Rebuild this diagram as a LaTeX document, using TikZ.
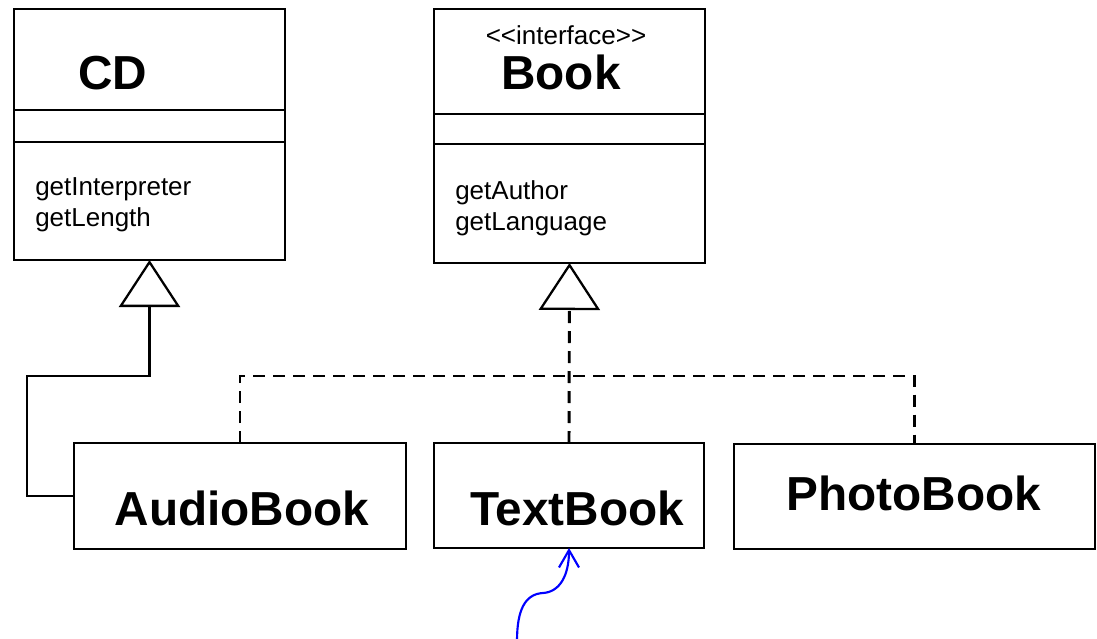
\documentclass[tikz,border=0pt]{standalone}
\usepackage{fontspec}
\setmainfont{Liberation Sans}[Ligatures=TeXOff]
\usetikzlibrary{arrows.meta,calc}
\def\pxu{0.75pt}
\begin{document}
\begin{tikzpicture}[x=0.75pt,y=-0.75pt,
  box/.style={draw,line width=1.7pt,inner sep=0pt,outer sep=0pt,rectangle},
  title/.style={anchor=base,inner sep=0pt,font=\fontsize{35.8}{40}\selectfont\bfseries},
  stereo/.style={anchor=base,inner sep=0pt,font=\fontsize{19.5}{22}\selectfont},
  meth/.style={anchor=base west,inner sep=0pt,font=\fontsize{19.5}{22}\selectfont},
  divider/.style={line width=1.7pt},
  inh/.style={line width=1.7pt,-{Triangle[open,length=47*\pxu,width=61*\pxu,line width=1.7pt]}},
  realz/.style={line width=2.2pt,dash pattern=on 9pt off 6pt},
  note/.style={blue,line width=1.6pt,-{Straight Barb[length=13pt,width=15pt,line width=1.6pt]}}]
\useasboundingbox (0,0) rectangle (1097,639);

% class boxes
\node[box,minimum width=271*\pxu,minimum height=251*\pxu] (cd) at (149.5,134.5) {};
\node[box,minimum width=271*\pxu,minimum height=254*\pxu] (bk) at (569.5,136) {};
\node[box,minimum width=332*\pxu,minimum height=106*\pxu] (ab) at (240,496) {};
\node[box,minimum width=270*\pxu,minimum height=105*\pxu] (tb) at (569,495.5) {};
\node[box,minimum width=361*\pxu,minimum height=105*\pxu] (pb) at (914.5,496.5) {};

% dividers
\draw[divider] (14,110) -- (285,110);
\draw[divider] (14,142) -- (285,142);
\draw[divider] (434,114) -- (705,114);
\draw[divider] (434,144) -- (705,144);

% texts
\node[title] (cdt) at (113,89) {CD};
\node[meth] (cdm1) at (35,195) {getInterpreter};
\node[meth] (cdm2) at (35,226) {getLength};
\node[stereo] (bks) at (566,44) {<<interface>>};
\node[title] (bkt) at (561,89) {Book};
\node[meth] (bkm1) at (455,199) {getAuthor};
\node[meth] (bkm2) at (455,230) {getLanguage};
\node[title] (abt) at (242,525) {AudioBook};
\node[title] (tbt) at (577,525) {TextBook};
\node[title] (pbt) at (914,510) {PhotoBook};

% generalization AudioBook -> CD
\coordinate (g1) at (27,496);
\coordinate (g2) at (27,376);
\coordinate (g3) at (149.5,376);
\draw[inh] (ab.west) -- (g1) -- (g2) -- (g3) -- (cd.south);

% realization -> Book
\coordinate (h1) at (240,376);
\coordinate (h2) at (914.5,376);
\draw[realz] (ab.north) -- (h1) -- (h2) -- (pb.north);
\draw[realz,-{Triangle[open,length=47*\pxu,width=61*\pxu,line width=1.7pt]}] (tb.north) -- (bk.south);

% blue annotation arrow
\coordinate (n0) at (517,641);
\draw[note] (n0) .. controls (517,610) and (525,594) .. (543,593)
  .. controls (560,592) and (569,575) .. (tb.south);
\end{tikzpicture}
\end{document}
